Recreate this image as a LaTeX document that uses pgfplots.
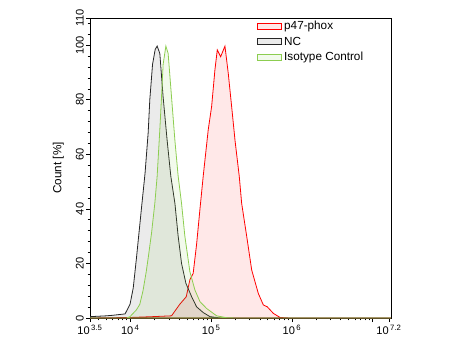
\documentclass[border=0pt]{standalone}
\usepackage{pgfplots}
\pgfplotsset{compat=1.18}
\usepackage{fontspec}
\setmainfont{Liberation Sans}
\definecolor{isoGreen}{RGB}{140,205,80}
\begin{document}
\fontsize{8.3}{10}\selectfont
\begin{tikzpicture}
\begin{axis}[
  name=ax,
  scale only axis,
  width=225.75pt, height=225pt,
  xmin=3.5, xmax=7.225, ymin=0, ymax=110,
  axis line style={line width=0.7pt},
  tick align=outside,
  tick pos=left,
  major tick length=3pt, minor tick length=1.8pt,
  tick style={line width=0.5pt, black},
  xtick={3.5,4,5,6,7,7.2},
  xticklabels={10\textsuperscript{\kern1pt3.5},10\textsuperscript{\kern1pt4},10\textsuperscript{\kern1pt5},10\textsuperscript{\kern1pt6},,10\textsuperscript{\kern1pt7.2}},
  minor xtick={3.602,3.699,3.778,3.845,3.903,3.954,
    4.301,4.477,4.602,4.699,4.778,4.845,4.903,4.954,
    5.301,5.477,5.602,5.699,5.778,5.845,5.903,5.954,
    6.301,6.477,6.602,6.699,6.778,6.845,6.903,6.954},
  ytick={0,20,40,60,80,100,110},
  minor ytick={4,8,12,16,24,28,32,36,44,48,52,56,64,68,72,76,84,88,92,96,104,108},
  yticklabel style={rotate=90, anchor=south, inner sep=1.5pt},
  xticklabel style={inner sep=2pt},
  /pgf/number format/assume math mode=true,
  ylabel={\fontsize{8.8}{10}\selectfont Count [\%]},
  ylabel style={at={(axis description cs:-0.105,0.5)}, anchor=center},
  legend style={at={(axis description cs:0.542,1.005)}, anchor=north west, draw=none, fill=none,
    row sep=1.0pt, nodes={inner sep=1.5pt}, font=\fontsize{8.8}{10}\selectfont},
  legend cell align=left,
  legend image code/.code={\draw[#1, line width=0.6pt] (0pt,-2.25pt) rectangle (18pt,2.25pt);},
]
\addplot[draw=red, line width=0.6pt, fill=red, fill opacity=0.09] coordinates {
(3.5,0) (4.005,0.2) (4.277,0.5) (4.509,0.8) (4.610,5.0) (4.691,7.8) (4.736,14) (4.777,16.4)
(4.819,27) (4.861,40) (4.901,52) (4.963,69) (5.005,77.5) (5.046,91) (5.075,98.3)
(5.117,95.8) (5.170,99.7) (5.211,89.7) (5.253,77.5) (5.295,65) (5.347,52) (5.377,42)
(5.439,30) (5.501,17.6) (5.583,9) (5.645,4.8) (5.694,4.1) (5.769,1.7) (5.852,0.2)
(5.973,0) (7.225,0)} \closedcycle;
\addlegendentry{p47-phox}
\addplot[draw=black!85, line width=0.6pt, fill=black, fill opacity=0.08] coordinates {
(3.5,0.5) (3.702,0.8) (3.783,1) (3.934,1.5) (3.995,5) (4.035,11) (4.075,22) (4.136,40)
(4.181,53) (4.220,68) (4.240,80) (4.274,93) (4.307,98.5) (4.331,99.7) (4.364,97)
(4.405,81) (4.455,65) (4.500,52) (4.551,42) (4.591,30) (4.633,20) (4.687,12.7)
(4.758,7.8) (4.819,4.1) (4.901,2) (4.985,0.5) (5.115,0) (7.225,0)} \closedcycle;
\addlegendentry{NC}
\addplot[draw=isoGreen, line width=0.6pt, fill=isoGreen, fill opacity=0.11] coordinates {
(3.5,0) (3.954,0) (3.995,0.5) (4.075,3) (4.116,5) (4.156,10) (4.196,17) (4.220,22)
(4.261,31) (4.302,42) (4.331,52) (4.364,69) (4.385,81) (4.405,93) (4.439,99.7)
(4.467,97) (4.509,81) (4.551,65) (4.591,52) (4.633,42) (4.674,30) (4.736,17)
(4.798,10.3) (4.861,6) (4.943,3.5) (5.067,0.8) (5.192,0.1) (5.317,0) (7.225,0)} \closedcycle;
\addlegendentry{Isotype Control}
\end{axis}
\path ([xshift=-67.5pt,yshift=-32.25pt]ax.south west) rectangle ([xshift=45.75pt,yshift=13.5pt]ax.north east);
\end{tikzpicture}
\end{document}
